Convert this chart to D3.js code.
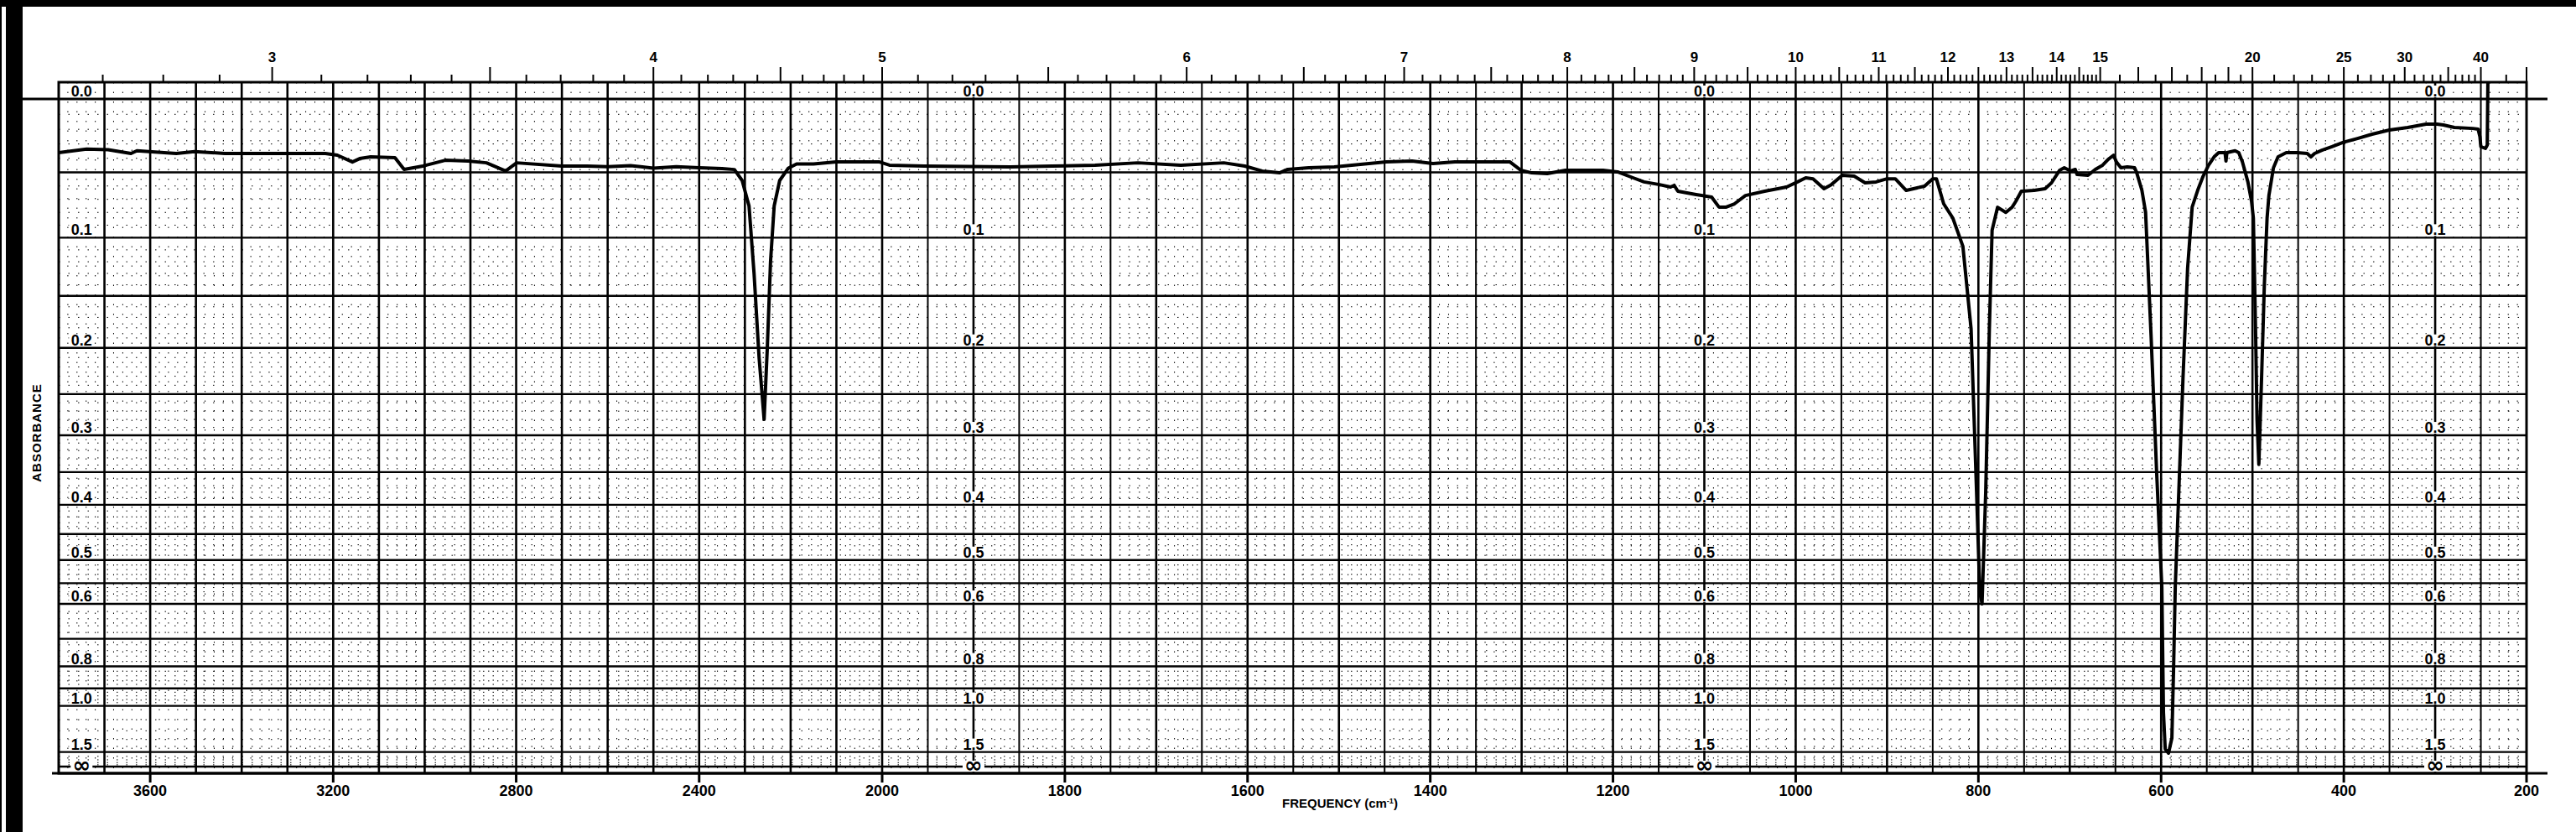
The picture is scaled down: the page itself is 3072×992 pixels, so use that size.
<!DOCTYPE html>
<html>
<head>
<meta charset="utf-8">
<script src="https://cdn.jsdelivr.net/npm/d3@7"></script>
<style>
  body { margin: 0; background: #fff; }
  svg text { font-family: "Liberation Sans", Arial, sans-serif; font-weight: bold; fill: #000; }
</style>
</head>
<body>
<script>
// bottom axis labels (cm-1)
const wavenumberLabels = [3600, 3200, 2800, 2400, 2000, 1800, 1600, 1400, 1200, 1000, 800, 600, 400, 200];
// top axis labels (microns)
const micronLabels = [3, 4, 5, 6, 7, 8, 9, 10, 11, 12, 13, 14, 15, 20, 25, 30, 40];
// absorbance labels, repeated in several columns
const absorbanceLabels = [0, 0.1, 0.2, 0.3, 0.4, 0.5, 0.6, 0.8, 1.0, 1.5];
const labelColumns = [3750, 1900, 1100, 300];

// spectrum: [wavenumber cm-1, absorbance]
const spectrum = [
  [3800, .036], [3739, .0335], [3692, .034], [3642, .0366], [3629, .0347], [3543, .0366], [3503, .0353],
  [3437, .0366], [3354, .0366], [3217, .0366], [3191, .0378], [3158, .0426], [3142, .0402], [3118, .039],
  [3065, .0396], [3045, .0479], [3004, .0455], [2955, .0414], [2905, .042], [2865, .0432], [2823, .0491],
  [2799, .0432], [2700, .0455], [2645, .0455], [2600, .046], [2550, .0452], [2500, .047], [2450, .046],
  [2400, .0467], [2350, .0473], [2323, .048], [2306, .056], [2291, .075], [2280, .13], [2269, .21],
  [2258, .28], [2251, .2], [2244, .12], [2236, .075], [2224, .056], [2205, .047], [2187, .044],
  [2150, .044], [2100, .0425], [2038, .0425], [2007, .0425], [1992, .0449], [1954, .0455], [1860, .0461],
  [1814, .0455], [1767, .0449], [1720, .0432], [1673, .0449], [1626, .0432], [1603, .0455], [1584, .0491],
  [1565, .0504], [1556, .0479], [1533, .0467], [1505, .0461], [1486, .0449], [1448, .0425], [1420, .042],
  [1397, .0437], [1373, .0425], [1313, .0425], [1301, .0485], [1289, .0504], [1272, .0509], [1252, .0485],
  [1211, .0485], [1195, .0497], [1178, .054], [1166, .057], [1149, .059], [1137, .0608], [1133, .0595],
  [1129, .0639], [1109, .0664], [1092, .0683], [1084, .0759], [1076, .0759], [1067, .0734], [1055, .0671],
  [1034, .0639], [1010, .0608], [998, .057], [989, .054], [981, .0547], [969, .062], [961, .059],
  [949, .0522], [936, .0528], [924, .0577], [912, .057], [900, .0547], [891, .0547], [879, .0633],
  [871, .062], [859, .0602], [850, .0547], [846, .0547], [838, .0734], [828, .0844], [817, .107],
  [808, .181], [802, .38], [798.5, .57], [796, .60], [792, .38], [788, .181], [785, .094], [779, .076],
  [770, .08], [763, .0759], [759, .0715], [753, .0639], [739, .0633], [727, .062], [720, .0577],
  [711, .0485], [706, .0467], [699, .0491], [694, .0479], [692, .0516], [680, .0522], [672, .0479],
  [664, .0449], [658, .0408], [652, .0378], [649, .0425], [644, .0467], [637, .0461], [629, .0467],
  [627, .0497], [621, .0633], [617, .0798], [611, .1876], [605, .3466], [599.2, .559], [597.4, 1.048],
  [595.5, 1.443], [591.9, 1.524], [588.2, 1.282], [586.4, .819], [584.5, .559], [576, .2313], [571, .1256],
  [566, .0759], [560, .0633], [554, .0528], [548, .0449], [542, .039], [537, .036], [530, .036],
  [529, .042], [528, .036], [519, .0347], [515, .036], [511, .0425], [505, .057], [501, .0715],
  [499, .0844], [496.5, .1876], [495, .28], [493, .339], [490, .2313], [487, .1403], [484, .0844],
  [482, .0671], [477, .0467], [472, .039], [463, .036], [451, .036], [440, .0366], [436, .039],
  [432, .0366], [424, .0343], [413, .0319], [401, .029], [385, .0262], [369, .0233], [350, .0205],
  [330, .0188], [310, .0165], [298, .0165], [291, .0171], [279, .0188], [259, .0194], [253, .0199],
  [251, .025], [250, .0319], [245, .0331], [243, .0308], [242.3, -.0107]
];

const W = 3072, H = 992;
const plotTop = 98, plotBottom = 922, plotLeft = 70, plotRight = 3013;

const svg = d3.select("body").append("svg")
    .attr("width", W)
    .attr("height", H);

svg.append("rect").attr("width", W).attr("height", H).attr("fill", "#fff");

// 4000-2000 region is drawn at half the scale of 2000-200
const x = d3.scaleLinear()
    .domain([3800, 2000, 200])
    .range([plotLeft, 1052, plotRight]);

// chart paper is linear in transmittance, labelled in absorbance
const yT = d3.scaleLinear()
    .domain([1, 0])
    .range([118, plotBottom]);
const y = a => yT(Math.pow(10, -a));

const grid = svg.append("g");

// dotted minor grid
const minorNu = d3.range(3780, 2000, -20).filter(v => v % 100 !== 0)
    .concat(d3.range(1990, 200, -10).filter(v => v % 50 !== 0));
grid.selectAll(".vminor").data(minorNu).join("line")
    .attr("x1", d => x(d)).attr("x2", d => x(d))
    .attr("y1", plotTop).attr("y2", plotBottom)
    .attr("stroke", "#000").attr("stroke-width", 1).attr("stroke-dasharray", "1.5,10");

const minorA = d3.range(1, 60).filter(i => i % 5 !== 0).map(i => i / 100)
    .concat([62, 64, 66, 68, 72, 74, 76, 78, 82, 84, 86, 88, 92, 94, 96, 98].map(i => i / 100))
    .concat([1.1, 1.2, 1.3, 1.4, 1.6, 1.7, 1.8, 1.9]);
grid.selectAll(".hminor").data(minorA).join("line")
    .attr("x1", plotLeft).attr("x2", plotRight)
    .attr("y1", d => y(d)).attr("y2", d => y(d))
    .attr("stroke", "#000").attr("stroke-width", 1).attr("stroke-dasharray", "1.5,10");

// solid grid
const majorNu = d3.range(3700, 2000, -100).concat(d3.range(2000, 200, -50));
grid.selectAll(".vmajor").data(majorNu).join("line")
    .attr("x1", d => x(d)).attr("x2", d => x(d))
    .attr("y1", plotTop).attr("y2", plotBottom)
    .attr("stroke", "#000")
    .attr("stroke-width", d => d % 100 === 0 ? 2.6 : 2);

const majorA = d3.range(1, 13).map(i => i * 0.05).concat([0.7, 0.8, 0.9, 1.0, 1.5, 2.0]);
grid.selectAll(".hmajor").data(majorA).join("line")
    .attr("x1", plotLeft).attr("x2", plotRight)
    .attr("y1", d => y(d)).attr("y2", d => y(d))
    .attr("stroke", "#000").attr("stroke-width", 2.4);

// frame
svg.append("rect")
    .attr("x", plotLeft).attr("y", plotTop)
    .attr("width", plotRight - plotLeft).attr("height", plotBottom - plotTop)
    .attr("fill", "none").attr("stroke", "#000").attr("stroke-width", 3);
svg.append("line").attr("x1", 27).attr("x2", 3038).attr("y1", y(0)).attr("y2", y(0))
    .attr("stroke", "#000").attr("stroke-width", 3.2);
svg.append("line").attr("x1", 62).attr("x2", 3038).attr("y1", plotBottom).attr("y2", plotBottom)
    .attr("stroke", "#000").attr("stroke-width", 3.2);

// top axis: wavelength in microns
const microTicks = [];
d3.range(27, 151).forEach(i => microTicks.push({ um: i / 10, long: i % 5 === 0 }));
d3.range(31, 41).forEach(i => microTicks.push({ um: i / 2, long: i % 2 === 0 }));
d3.range(21, 41).forEach(i => microTicks.push({ um: i, long: i % 5 === 0 }));
microTicks.push({ um: 45, long: false }, { um: 50, long: true });

svg.append("g").selectAll("line").data(microTicks).join("line")
    .attr("x1", d => x(1e4 / d.um)).attr("x2", d => x(1e4 / d.um))
    .attr("y1", plotTop).attr("y2", d => d.long ? 80 : 89)
    .attr("stroke", "#000").attr("stroke-width", 2);

svg.append("g").selectAll("text").data(micronLabels).join("text")
    .attr("x", d => x(1e4 / d)).attr("y", 74)
    .attr("text-anchor", "middle").attr("font-size", 17)
    .text(d => d);

// bottom axis: frequency
svg.append("g").selectAll("line").data(wavenumberLabels).join("line")
    .attr("x1", d => x(d)).attr("x2", d => x(d))
    .attr("y1", plotBottom).attr("y2", 933)
    .attr("stroke", "#000").attr("stroke-width", 3);

svg.append("g").selectAll("text").data(wavenumberLabels).join("text")
    .attr("x", d => x(d)).attr("y", 949)
    .attr("text-anchor", "middle").attr("font-size", 18)
    .text(d => d);

const freq = svg.append("text")
    .attr("x", 1598).attr("y", 963)
    .attr("text-anchor", "middle").attr("font-size", 15);
freq.append("tspan").text("FREQUENCY (cm");
freq.append("tspan").attr("font-size", 9).attr("baseline-shift", "super").text("-1");
freq.append("tspan").text(")");

svg.append("text")
    .attr("transform", "translate(49,516) rotate(-90)")
    .attr("text-anchor", "middle").attr("font-size", 15)
    .attr("letter-spacing", 1)
    .text("ABSORBANCE");

// absorbance labels in columns, on white patches
const cells = [];
labelColumns.forEach(nu => {
  absorbanceLabels.forEach(a => cells.push({ nu, a, t: a.toFixed(1) }));
  cells.push({ nu, a: 2, t: "\u221e" });
});
const lab = svg.append("g");
lab.selectAll("rect").data(cells).join("rect")
    .attr("x", d => x(d.nu) - (d.t === "\u221e" ? 13 : 15))
    .attr("y", d => d.t === "\u221e" ? y(d.a) - 7 : y(d.a) - 16)
    .attr("width", d => d.t === "\u221e" ? 26 : 30)
    .attr("height", d => d.t === "\u221e" ? 13 : 14)
    .attr("fill", "#fff");
lab.selectAll("text").data(cells).join("text")
    .attr("x", d => x(d.nu))
    .attr("y", d => d.t === "\u221e" ? y(d.a) + 7 : y(d.a) - 3)
    .attr("text-anchor", "middle")
    .attr("font-size", d => d.t === "\u221e" ? 26 : 18)
    .style("font-family", d => d.t === "\u221e" ? "DejaVu Sans" : null)
    .text(d => d.t);

// spectrum trace
const line = d3.line()
    .x(d => x(d[0]))
    .y(d => y(d[1]));

svg.append("path")
    .datum(spectrum)
    .attr("d", line)
    .attr("fill", "none")
    .attr("stroke", "#000")
    .attr("stroke-width", 4)
    .attr("stroke-linejoin", "round");

// scanner borders
svg.append("rect").attr("x", 0).attr("y", 0).attr("width", W).attr("height", 8).attr("fill", "#000");
svg.append("rect").attr("x", 7).attr("y", 0).attr("width", 20).attr("height", H).attr("fill", "#000");
svg.append("rect").attr("x", 0).attr("y", 0).attr("width", 2).attr("height", H).attr("fill", "#000");
</script>
</body>
</html>
